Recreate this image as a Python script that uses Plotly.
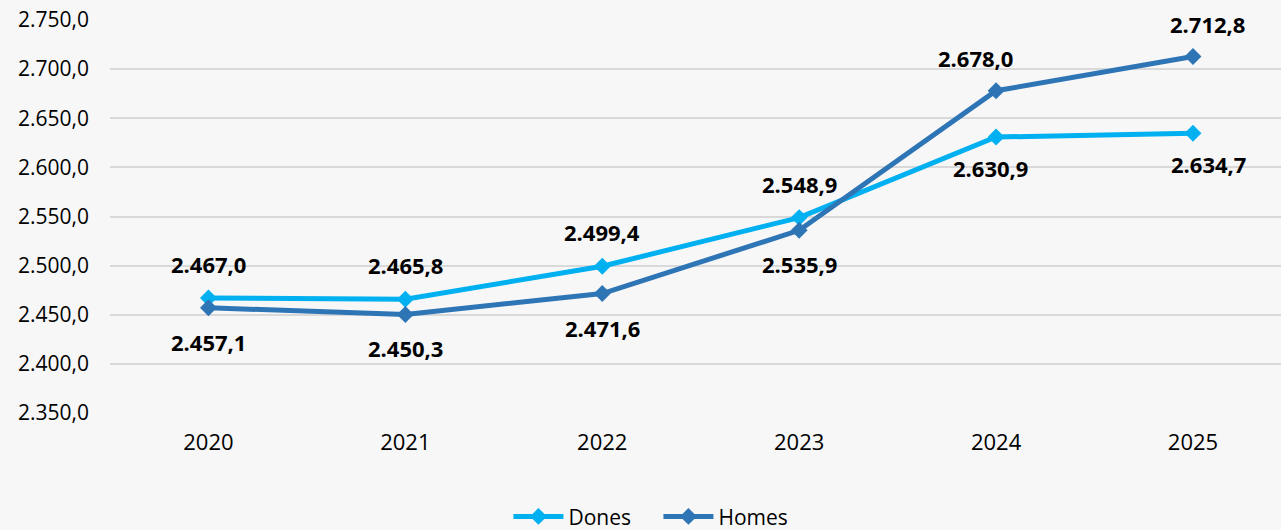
import plotly.graph_objects as go

years = ["2020", "2021", "2022", "2023", "2024", "2025"]
dones = [2467.0, 2465.8, 2499.4, 2548.9, 2630.9, 2634.7]
homes = [2457.1, 2450.3, 2471.6, 2535.9, 2678.0, 2712.8]
y_ticks = [2350, 2400, 2450, 2500, 2550, 2600, 2650, 2700, 2750]

DONES_COLOR = "#00B0F0"
HOMES_COLOR = "#2E75B6"
FONT = "Open Sans, Noto Sans, sans-serif"


def fmt(v):
    # spanish style: 2.467,0
    s = f"{v:,.1f}"
    return s.replace(",", "X").replace(".", ",").replace("X", ".")


fig = go.Figure()

fig.add_trace(go.Scatter(
    x=years, y=dones, name="Dones",
    mode="lines+markers",
    line=dict(color=DONES_COLOR, width=5),
    marker=dict(symbol="diamond", size=13, color=DONES_COLOR),
))
fig.add_trace(go.Scatter(
    x=years, y=homes, name="Homes",
    mode="lines+markers",
    line=dict(color=HOMES_COLOR, width=5),
    marker=dict(symbol="diamond", size=13, color=HOMES_COLOR),
))

# value labels: Dones above until 2023, then below (Homes the other way)
for i, yr in enumerate(years):
    d_above = dones[i] >= homes[i]
    if d_above:
        d_shift, h_shift, d_x, h_x = 34, -34, 0, 0
    else:
        d_shift, h_shift = -31, 33
        d_x, h_x = (-6, -21) if i == 4 else (16, 15)
    fig.add_annotation(
        x=i, y=dones[i], xref="x", yref="y", text=f"<b>{fmt(dones[i])}</b>",
        showarrow=False, yshift=d_shift, xshift=d_x,
        font=dict(size=22, color="black", family=FONT),
    )
    fig.add_annotation(
        x=i, y=homes[i], xref="x", yref="y", text=f"<b>{fmt(homes[i])}</b>",
        showarrow=False, yshift=h_shift, xshift=h_x,
        font=dict(size=22, color="black", family=FONT),
    )

fig.update_layout(
    width=1281, height=530,
    paper_bgcolor="#F7F7F7",
    plot_bgcolor="#F7F7F7",
    margin=dict(l=110, r=0, t=20, b=117),
    font=dict(family=FONT, size=20, color="black"),
    showlegend=True,
    legend=dict(
        orientation="h", xref="container", x=0.514, xanchor="center",
        yref="container", y=0.025, yanchor="middle",
        font=dict(size=21), bgcolor="rgba(0,0,0,0)",
        itemwidth=50, entrywidth=85,
    ),
    xaxis=dict(
        type="category", range=[-0.5, 5.447],
        showgrid=False, zeroline=False, showline=False, ticks="",
        tickfont=dict(size=22), ticklabelstandoff=14,
    ),
    yaxis=dict(
        range=[2350, 2750], tickvals=y_ticks,
        ticktext=[fmt(v) for v in y_ticks],
        showgrid=True, gridcolor="#D9D9D9", gridwidth=2,
        zeroline=False, showline=False, ticks="",
        tickfont=dict(size=21), ticklabelstandoff=20,
    ),
)

fig.write_html("out.html", config={"displayModeBar": False},
               post_script="document.body.style.margin='0';")
